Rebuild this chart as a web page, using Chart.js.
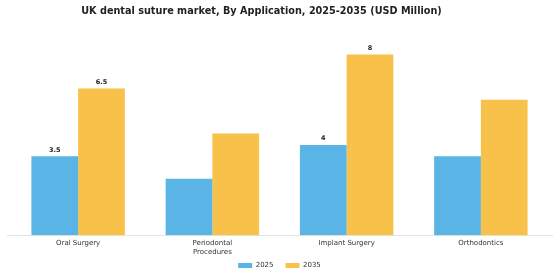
<!DOCTYPE html>
<html>
<head>
<meta charset="utf-8">
<script src="https://cdn.jsdelivr.net/npm/chart.js@4.4.1/dist/chart.umd.min.js"></script>
<style>
  html, body { margin: 0; padding: 0; background: #ffffff; }
  #wrap { position: relative; width: 560px; height: 280px; }
  #title { position: absolute; top: 5px; left: 0; width: 523px; text-align: center;
           font-family: "DejaVu Sans", sans-serif; font-weight: bold; font-size: 9.7px; color: #222; }
  canvas { position: absolute; left: 0; top: 0; }
</style>
</head>
<body>
<div id="wrap">
  <canvas id="c" width="560" height="280"></canvas>
  <div id="title">UK dental suture market, By Application, 2025-2035 (USD Million)</div>
</div>
<script>
const categories = [["Oral Surgery"], ["Periodontal", "Procedures"], ["Implant Surgery"], ["Orthodontics"]];
const values2025 = [3.5, 2.5, 4.0, 3.5];
const values2035 = [6.5, 4.5, 8.0, 6.0];
const labeledCategories = [0, 2];
const seriesNames = ["2025", "2035"];

const valueLabels = {
  id: 'valueLabels',
  afterDatasetsDraw(chart) {
    const ctx = chart.ctx;
    ctx.save();
    ctx.font = 'bold 6.5px "DejaVu Sans"';
    ctx.fillStyle = '#222';
    ctx.textAlign = 'center';
    ctx.textBaseline = 'bottom';
    chart.data.datasets.forEach((ds, di) => {
      const meta = chart.getDatasetMeta(di);
      meta.data.forEach((bar, i) => {
        if (!labeledCategories.includes(i)) return;
        const v = ds.data[i];
        ctx.fillText(Number.isInteger(v) ? String(v) : v.toFixed(1), bar.x, bar.y - 3);
      });
    });
    ctx.restore();
  }
};

const axisLine = {
  id: 'axisLine',
  beforeDatasetsDraw(chart) {
    const ctx = chart.ctx;
    const y = chart.scales.y.getPixelForValue(0);
    ctx.save();
    ctx.strokeStyle = '#e3e3e3';
    ctx.lineWidth = 1;
    ctx.beginPath();
    ctx.moveTo(7, Math.round(y) + 0.5);
    ctx.lineTo(553, Math.round(y) + 0.5);
    ctx.stroke();
    ctx.restore();
  }
};

const legendTweak = {
  id: 'legendTweak',
  beforeInit(chart) {
    const lg = chart.legend;
    if (lg) {
      const f = lg.fit;
      lg.fit = function () { f.call(this); this.height -= 13; };
    }
  },
  afterLayout(chart) {
    if (chart.legend) chart.legend.top -= 10;
  }
};

new Chart(document.getElementById('c'), {
  type: 'bar',
  data: {
    labels: categories,
    datasets: [
      { label: seriesNames[0], data: values2025, backgroundColor: '#5AB4E5', categoryPercentage: 0.696, barPercentage: 1.0 },
      { label: seriesNames[1], data: values2035, backgroundColor: '#F8C24A', categoryPercentage: 0.696, barPercentage: 1.0 }
    ]
  },
  options: {
    responsive: false,
    animation: false,
    devicePixelRatio: 1,
    layout: { padding: { top: 32, left: 11, right: 12, bottom: 4 } },
    plugins: {
      title: { display: false },
      tooltip: { enabled: false },
      legend: {
        position: 'bottom',
        labels: {
          boxWidth: 14, boxHeight: 5, padding: 12,
          font: { family: '"DejaVu Sans"', size: 7 }, color: '#333'
        }
      }
    },
    scales: {
      x: {
        grid: { display: false, drawTicks: false },
        border: { display: false },
        ticks: { font: { family: '"DejaVu Sans"', size: 7 }, color: '#333', padding: 4, maxRotation: 0 }
      },
      y: {
        display: false,
        min: 0, max: 9
      }
    }
  },
  plugins: [legendTweak, axisLine, valueLabels]
});
</script>
</body>
</html>
